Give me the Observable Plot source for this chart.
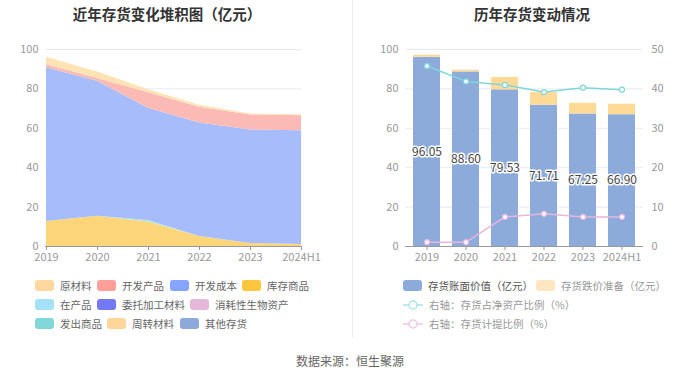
<!DOCTYPE html>
<html><head><meta charset="utf-8">
<script src="https://cdn.jsdelivr.net/npm/d3@7"></script>
<script src="https://cdn.jsdelivr.net/npm/@observablehq/plot@0.6"></script>
<style>
body{margin:0;width:700px;height:378px;overflow:hidden;background:#fff;font-family:"Noto Sans CJK SC","Noto Sans",sans-serif;position:relative}
.title{position:absolute;top:3px;font-size:14.5px;font-weight:bold;color:#333;text-align:center;width:350px}
.chart{position:absolute;top:30px}
.legend{position:absolute;font-size:10.5px;color:#666}
.li{position:absolute;display:flex;align-items:center;white-space:nowrap}
.sw{display:inline-block;width:19px;height:11px;border-radius:3px;margin-right:6px}
.divider{position:absolute;left:352px;top:0;width:1px;height:338px;background:#f0f0f0}
.caption{position:absolute;top:352px;width:700px;text-align:center;font-size:12px;color:#666}
</style></head><body>
<div class="title" style="left:-8px">近年存货变化堆积图（亿元）</div>
<div class="title" style="left:357px">历年存货变动情况</div>
<div class="divider"></div>
<div class="chart" id="left" style="left:0"></div>
<div class="chart" id="right" style="left:350px"></div>
<div class="legend" id="legL"></div>
<div class="legend" id="legR"></div>
<div class="caption">数据来源：恒生聚源</div>
<script>
const years = ["2019","2020","2021","2022","2023","2024H1"];
// left stacked area (亿元)
const kucunShangpin = [12.7, 15.4, 12.4, 5.1, 1.5, 1.0];
const fachuShangpin = [0, 0, 0.8, 0, 0, 0];
const kaifaChengben = [78.0, 68.5, 57.0, 57.6, 57.7, 57.8];
const kaifaChanpin = [1.5, 1.4, 7.9, 8.0, 7.6, 7.6];
const yuancailiao = [3.85, 3.3, 1.43, 1.0, 0.45, 0.5];
// right chart
const bookValue = [96.05, 88.60, 79.53, 71.71, 67.25, 66.90];
const provision = [1.05, 0.9, 6.25, 6.4, 5.45, 5.3];
const ratioNetAssets = [45.8, 41.9, 41.0, 39.2, 40.3, 39.8];
const ratioProvision = [1.1, 1.1, 7.5, 8.3, 7.5, 7.5];
const yTicks = [0, 20, 40, 60, 80, 100];

const legendLeftNames = ["原材料","开发产品","开发成本","库存商品","在产品","委托加工材料","消耗性生物资产","发出商品","周转材料","其他存货"];
const legendLeftColors = ["#FFD8A0","#FF9F99","#85A5FF","#FFC53D","#A6E1FA","#7579F5","#E5B8DA","#80D8D8","#FFD59A","#8CA9DA"];

const areaSeries = [
  {name:"库存商品", vals:kucunShangpin, color:"#FDD67C"},
  {name:"发出商品", vals:fachuShangpin, color:"#A8E6E4"},
  {name:"开发成本", vals:kaifaChengben, color:"#A7BDFB"},
  {name:"开发产品", vals:kaifaChanpin, color:"#FBBAB5"},
  {name:"原材料", vals:yuancailiao, color:"#FFE3B5"}
];
const areaData = [];
areaSeries.forEach(s => years.forEach((y,i) => areaData.push({year:y, series:s.name, value:s.vals[i]})));

const font = '"Noto Sans CJK SC","Noto Sans",sans-serif';

const left = Plot.plot({
  width: 350, height: 240,
  marginLeft: 45, marginRight: 49, marginTop: 19, marginBottom: 24,
  style: {fontFamily: font, fontSize: "11px", color: "#999", background: "transparent"},
  x: {type: "point", domain: years, padding: 0, label: null},
  y: {domain: [0, 100], label: null},
  color: {domain: areaSeries.map(s => s.name), range: areaSeries.map(s => s.color)},
  marks: [
    Plot.gridY(yTicks, {stroke: "#E6EAF5", strokeOpacity: 1}),
    Plot.areaY(areaData, Plot.stackY({x: "year", y: "value", z: "series", fill: "series", order: areaSeries.map(s => s.name), curve: "linear"})),
    Plot.axisY(yTicks, {tickSize: 0, tickPadding: 7, fill: "#999"}),
    Plot.ruleY([0], {stroke: "#999"}),
    Plot.axisX({tickSize: 4, stroke: "#999", fill: "#999", tickPadding: 3})
  ]
});
document.getElementById("left").appendChild(left);

const barData = [];
years.forEach((y,i) => barData.push({year:y, series:"存货账面价值（亿元）", value:bookValue[i]}));
years.forEach((y,i) => barData.push({year:y, series:"存货跌价准备（亿元）", value:provision[i]}));
const labelData = years.map((y,i) => ({year:y, value:bookValue[i]}));
const line1 = years.map((y,i) => ({year:y, value:ratioNetAssets[i]}));
const line2 = years.map((y,i) => ({year:y, value:ratioProvision[i]}));

const right = Plot.plot({
  width: 350, height: 240,
  marginLeft: 55, marginRight: 57, marginTop: 19, marginBottom: 24,
  style: {fontFamily: font, fontSize: "11px", color: "#999", background: "transparent"},
  x: {type: "band", domain: years, paddingInner: 0.32, paddingOuter: 0.16, label: null},
  y: {domain: [0, 100], label: null},
  color: {domain: ["存货账面价值（亿元）","存货跌价准备（亿元）"], range: ["#8DABDA","#FFDA96"]},
  marks: [
    Plot.gridY(yTicks, {stroke: "#E6EAF5", strokeOpacity: 1}),
    Plot.barY(barData, Plot.stackY({x: "year", y: "value", fill: "series", order: ["存货账面价值（亿元）","存货跌价准备（亿元）"]})),
    Plot.text(labelData, {x: "year", y: d => d.value / 2, text: d => d.value.toFixed(2), fill: "#444", stroke: "white", strokeWidth: 3, fontSize: 12}),
    Plot.line(line1, {x: "year", y: d => d.value * 2, stroke: "#80D6DA", strokeWidth: 1.5}),
    Plot.dot(line1, {x: "year", y: d => d.value * 2, r: 2.5, fill: "white", stroke: "#80D6DA", strokeWidth: 1.2}),
    Plot.line(line2, {x: "year", y: d => d.value * 2, stroke: "#E8B6DD", strokeWidth: 1.5}),
    Plot.dot(line2, {x: "year", y: d => d.value * 2, r: 2.5, fill: "white", stroke: "#E8B6DD", strokeWidth: 1.2}),
    Plot.axisY(yTicks, {anchor: "left", tickSize: 0, tickPadding: 7, fill: "#999"}),
    Plot.axisY(yTicks, {anchor: "right", tickSize: 0, tickPadding: 8, fill: "#999", tickFormat: d => d / 2}),
    Plot.ruleY([0], {stroke: "#999"}),
    Plot.axisX({tickSize: 4, stroke: "#999", fill: "#999", tickPadding: 3})
  ]
});
document.getElementById("right").appendChild(right);

// left legend (flowing rows)
const legL = document.getElementById("legL");
const rows = [[0,1,2,3],[4,5,6],[7,8,9]];
const rowY = [278, 297, 316];
const rowX = [[35,97,170,242],[35,97,190],[35,107,180]];
rows.forEach((r,ri) => r.forEach((idx,ci) => {
  const d = document.createElement("div");
  d.className = "li";
  d.style.left = rowX[ri][ci] + "px"; d.style.top = rowY[ri] + "px";
  d.innerHTML = `<span class="sw" style="background:${legendLeftColors[idx]}"></span>${legendLeftNames[idx]}`;
  legL.appendChild(d);
}));

const legR = document.getElementById("legR");
const rItems = [
  {x:403, y:278, type:"box", color:"#8DABDA", text:"存货账面价值（亿元）", tc:"#555"},
  {x:536, y:278, type:"box", color:"#FFE6C2", text:"存货跌价准备（亿元）", tc:"#999"},
  {x:403, y:297, type:"line", color:"#A8E6E8", text:"右轴：存货占净资产比例（%）", tc:"#999"},
  {x:403, y:316, type:"line", color:"#F0C8E6", text:"右轴：存货计提比例（%）", tc:"#999"}
];
rItems.forEach(it => {
  const d = document.createElement("div");
  d.className = "li";
  d.style.left = it.x + "px"; d.style.top = it.y + "px"; d.style.color = it.tc;
  const icon = it.type === "box"
    ? `<span class="sw" style="background:${it.color}"></span>`
    : `<svg width="20" height="12" style="margin-right:6px"><line x1="0" x2="20" y1="6" y2="6" stroke="${it.color}" stroke-width="1.5"/><circle cx="10" cy="6" r="4" fill="white" stroke="${it.color}" stroke-width="1.5"/></svg>`;
  d.innerHTML = icon + it.text;
  legR.appendChild(d);
});
</script>
</body></html>
